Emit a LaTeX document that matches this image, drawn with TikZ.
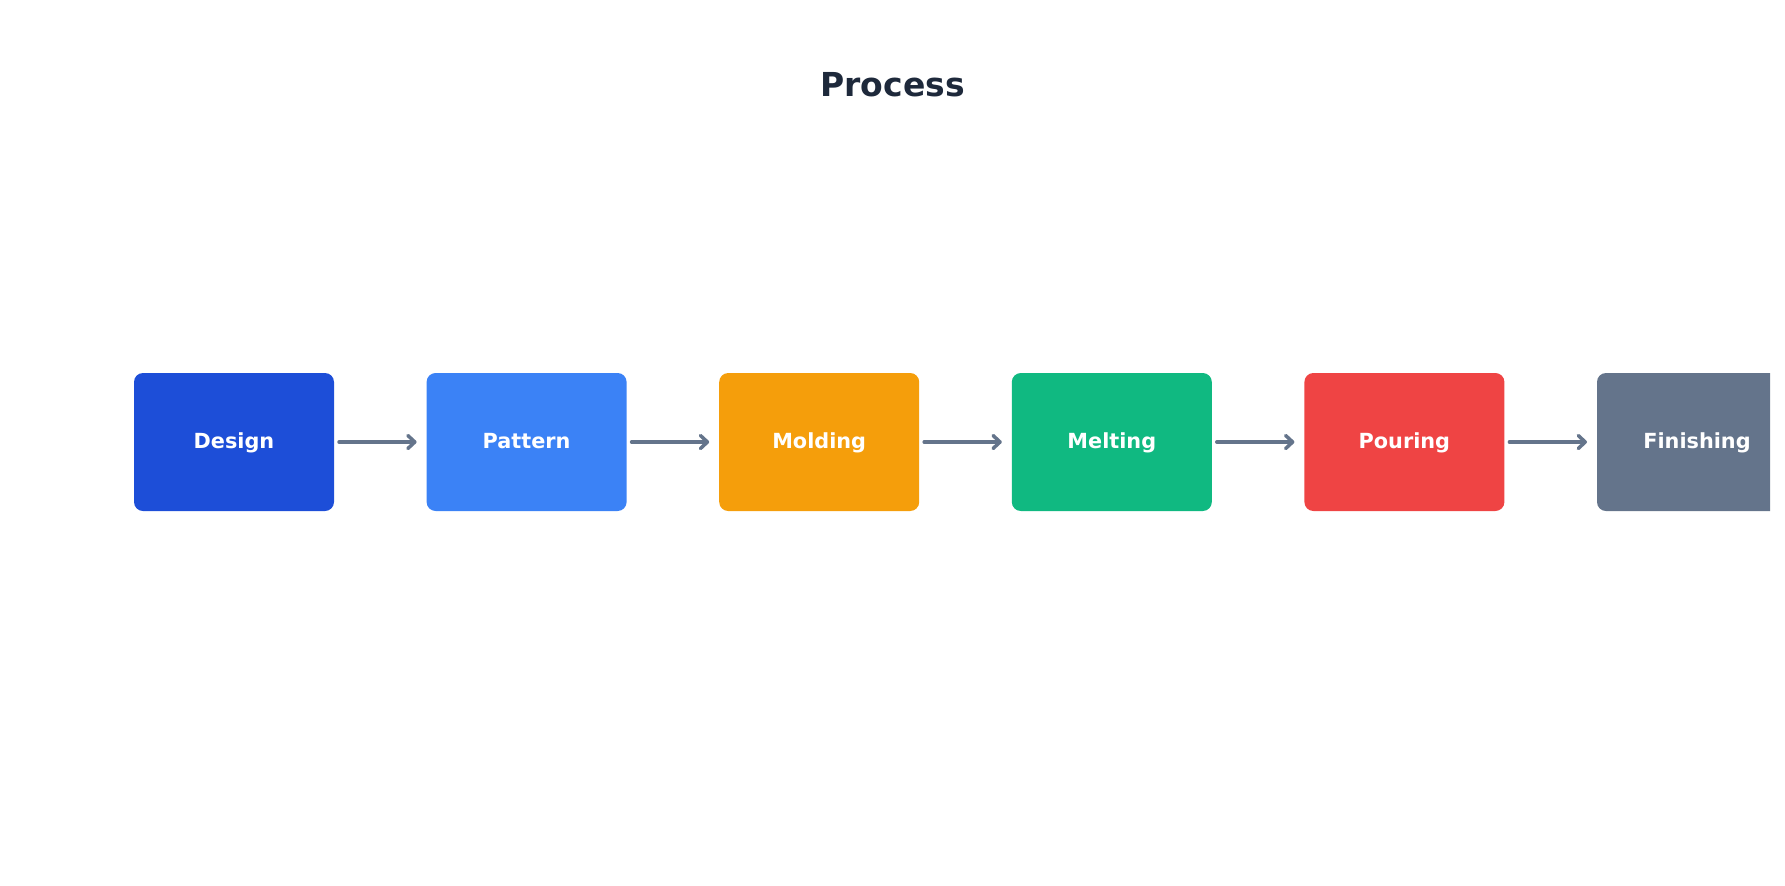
\documentclass[tikz,border=0pt]{standalone}
\usepackage{fontspec}
\setmainfont{DejaVu Sans}
\usepackage{xcolor}
\usepackage{tikz}
\usetikzlibrary{arrows.meta,positioning}

\definecolor{designblue}{HTML}{1D4ED8}
\definecolor{patternblue}{HTML}{3B82F6}
\definecolor{moldamber}{HTML}{F59E0B}
\definecolor{meltgreen}{HTML}{10B981}
\definecolor{pourred}{HTML}{EF4444}
\definecolor{finishslate}{HTML}{64748B}
\definecolor{titleslate}{HTML}{1E293B}

\begin{document}
\begin{tikzpicture}[x=0.5pt,y=-0.5pt,
  stagebox/.style={rounded corners=4.5pt, minimum width=100pt, minimum height=69pt,
    inner sep=0pt, outer sep=0pt, text=white, font=\fontsize{10.4}{12}\selectfont\bfseries,
    text height=6pt, text depth=0pt},
  flow/.style={draw=finishslate, line width=1.75pt, line cap=round,
    -{Straight Barb[length=3.5pt,width=6.5pt,round]},
    shorten <=2.5pt, shorten >=5pt}]

  \useasboundingbox (0,0) rectangle (1785,885);

  \node[text=titleslate, font=\fontsize{16.5}{19}\selectfont\bfseries] (title) at (892.5,85) {Process};

  \begin{scope}
    \clip (0,0) rectangle (1770,885);
    \node[stagebox, fill=designblue] (design) at (234,442) {Design};
    \node[stagebox, fill=patternblue, right=46.3pt of design] (pattern) {Pattern};
    \node[stagebox, fill=moldamber, right=46.3pt of pattern] (molding) {Molding};
    \node[stagebox, fill=meltgreen, right=46.3pt of molding] (melting) {Melting};
    \node[stagebox, fill=pourred, right=46.3pt of melting] (pouring) {Pouring};
    \node[stagebox, fill=finishslate, right=46.3pt of pouring] (finishing) {Finishing};
  \end{scope}

  \draw[flow] (design) -- (pattern);
  \draw[flow] (pattern) -- (molding);
  \draw[flow] (molding) -- (melting);
  \draw[flow] (melting) -- (pouring);
  \draw[flow] (pouring) -- (finishing);

\end{tikzpicture}
\end{document}
